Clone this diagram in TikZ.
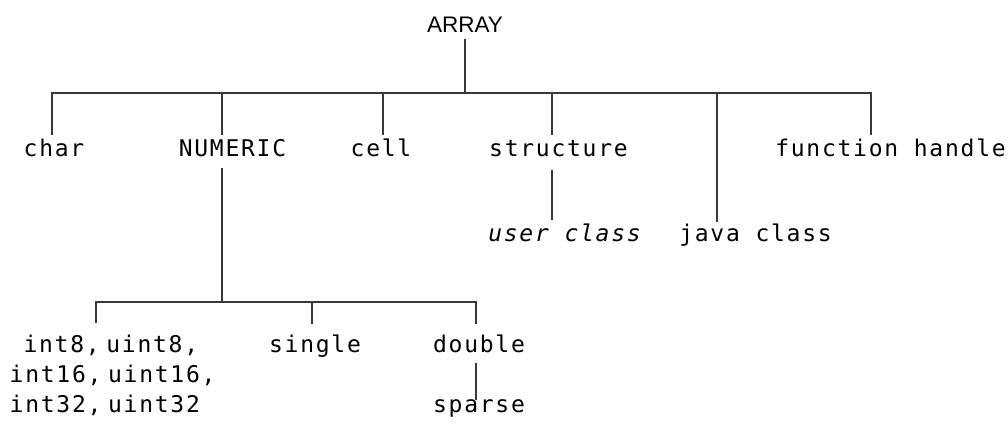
\documentclass[tikz,border=0pt]{standalone}
\usepackage{fontspec}
\newfontfamily\labelfont[LetterSpace=7.6,ItalicFont={DejaVu Sans Mono Oblique}]{DejaVu Sans Mono}
\newfontfamily\rootfont{Liberation Sans}
\begin{document}
\begin{tikzpicture}[x=1pt,y=-1pt,
  wire/.style={draw=black!78,line width=2.7pt},
  lbl/.style={inner sep=0pt,anchor=base,text height=16pt,text depth=0pt,
    text=black,font=\labelfont\fontsize{23}{30}\selectfont},
  rootlbl/.style={inner sep=0pt,anchor=base,text height=16pt,text depth=0pt,
    text=black,font=\rootfont\fontsize{22.5}{26}\selectfont}]
\useasboundingbox (0,0) rectangle (1008,427);

% labels
\node[rootlbl] (array) at (465,33) {ARRAY};
\node[lbl] (char) at (54,157) {char};
\node[lbl] (numeric) at (232.5,157) {NUMERIC};
\node[lbl] (cell) at (381,157) {cell};
\node[lbl] (structure) at (558.5,157) {structure};
\node[lbl] (fhandle) at (890.5,157) {function handle};
\node[lbl] (userclass) at (564.5,242) {\itshape user class};
\node[lbl] (javaclass) at (755.5,242) {java class};
\node[lbl,align=left,anchor=north west,text height=] (ints) at (9.5,335)
  {\hphantom{0}int8,\kern-9pt\ uint8,\\int16,\kern-9pt\ uint16,\\int32,\kern-9pt\ uint32};
\node[lbl] (single) at (315,352) {single};
\node[lbl] (double) at (479,352) {double};
\node[lbl] (sparse) at (479,412) {sparse};

% junctions
\coordinate (top) at (465,93);
\coordinate (xchar) at (52,93);
\coordinate (xnum) at (222,93);
\coordinate (xcell) at (383,93);
\coordinate (xstruct) at (552,93);
\coordinate (xjava) at (717,93);
\coordinate (xfh) at (871,93);
\coordinate (low) at (222,302);
\coordinate (xint) at (96,302);
\coordinate (xsingle) at (312,302);
\coordinate (xdouble) at (476,302);

% first level
\draw[wire,shorten <=6pt] (array.south) -- (top);
\draw[wire,shorten <=6pt,shorten >=6pt]
  (xchar |- char.north) -- (xchar) -- (xfh) -- (xfh |- fhandle.north);
\draw[wire,shorten >=6pt] (xnum) -- (xnum |- numeric.north);
\draw[wire,shorten >=6pt] (xcell) -- (xcell |- cell.north);
\draw[wire,shorten >=6pt] (xstruct) -- (xstruct |- structure.north);
\draw[wire,shorten >=4pt] (xjava) -- (xjava |- javaclass.north);

% structure to user class
\draw[wire,shorten <=13pt,shorten >=6pt] (xstruct |- structure.south) -- (xstruct |- userclass.north);

% numeric subtree
\draw[wire,shorten <=11pt] (xnum |- numeric.south) -- (low);
\draw[wire,shorten <=12pt,shorten >=12pt]
  (xint |- ints.north) -- (xint) -- (xdouble) -- (xdouble |- double.north);
\draw[wire,shorten >=12pt] (xsingle) -- (xsingle |- single.north);
\draw[wire,shorten <=11pt,shorten >=-4pt] (xdouble |- double.south) -- (xdouble |- sparse.north);
\end{tikzpicture}
\end{document}
